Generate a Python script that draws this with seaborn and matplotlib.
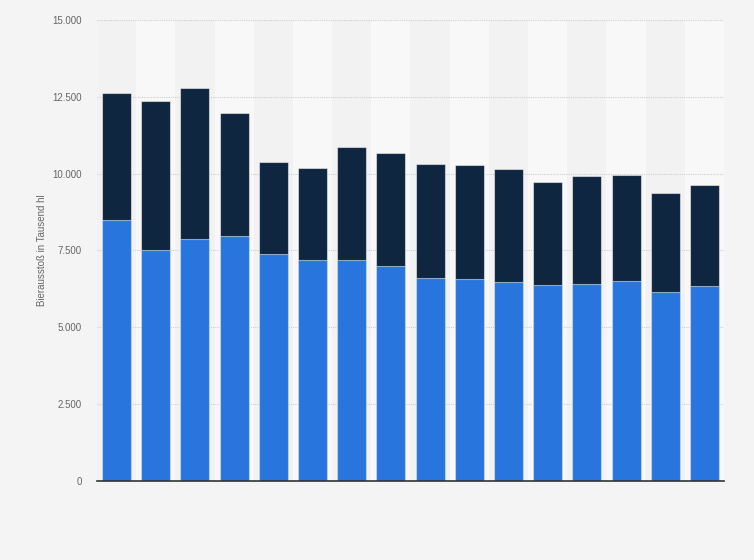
import matplotlib
matplotlib.use("Agg")
import matplotlib.pyplot as plt
import matplotlib.ticker as mticker
import seaborn as sns
import pandas as pd

# values in thousand hl
years = [str(y) for y in range(2005, 2021)]
total = [12630, 12370, 12780, 11970, 10370, 10180, 10870, 10660,
         10310, 10270, 10140, 9720, 9920, 9950, 9360, 9620]
lower = [8500, 7510, 7880, 7980, 7390, 7200, 7200, 6990,
         6620, 6570, 6480, 6390, 6420, 6510, 6160, 6360]
yticks = [0, 2500, 5000, 7500, 10000, 12500, 15000]

df = pd.DataFrame({"year": years, "total": total, "lower": lower})

sns.set_theme(style="white")
plt.rcParams["font.family"] = ["Liberation Sans", "DejaVu Sans"]

fig = plt.figure(figsize=(7.54, 5.6), dpi=100, facecolor="#f4f4f4")
ax = fig.add_axes([0.1286, 0.1411, 0.8316, 0.8232])
ax.set_facecolor("#f2f2f2")

# alternating column stripes
for i in range(len(years)):
    if i % 2 == 1:
        ax.axvspan(i - 0.5, i + 0.5, color="#f8f8f8", zorder=0, lw=0)

sns.barplot(data=df, x="year", y="total", color="#0f2640", saturation=1,
            width=0.74, edgecolor="#ffffff80", linewidth=0.8, ax=ax, zorder=3)
sns.barplot(data=df, x="year", y="lower", color="#2876dd", saturation=1,
            width=0.74, edgecolor="#ffffff80", linewidth=0.8, ax=ax, zorder=4)

ax.set_xlim(-0.5, len(years) - 0.5)
ax.set_ylim(0, 15000)
ax.set_yticks(yticks)
ax.yaxis.set_major_formatter(mticker.FuncFormatter(lambda v, p: f"{int(v):,}".replace(",", ".")))
ax.grid(axis="y", color="#cfcfcf", linestyle=(0, (1, 1)), linewidth=0.8, zorder=1)
ax.set_axisbelow(True)

ax.set_xticks(range(len(years)))
ax.set_xticklabels([])
ax.tick_params(axis="x", length=0)
ax.tick_params(axis="y", length=0, labelsize=7, labelcolor="#666666", pad=11)

ax.set_xlabel("")
ax.set_ylabel("Bierausstoß in Tausend hl", fontsize=7, color="#666666")
ax.yaxis.set_label_coords(-0.080, 0.5)

for s in ["top", "right", "left"]:
    ax.spines[s].set_visible(False)
ax.spines["bottom"].set_color("#333333")
ax.spines["bottom"].set_linewidth(1.2)
ax.spines["bottom"].set_zorder(6)

fig.savefig("out.png", dpi=100, facecolor=fig.get_facecolor())
